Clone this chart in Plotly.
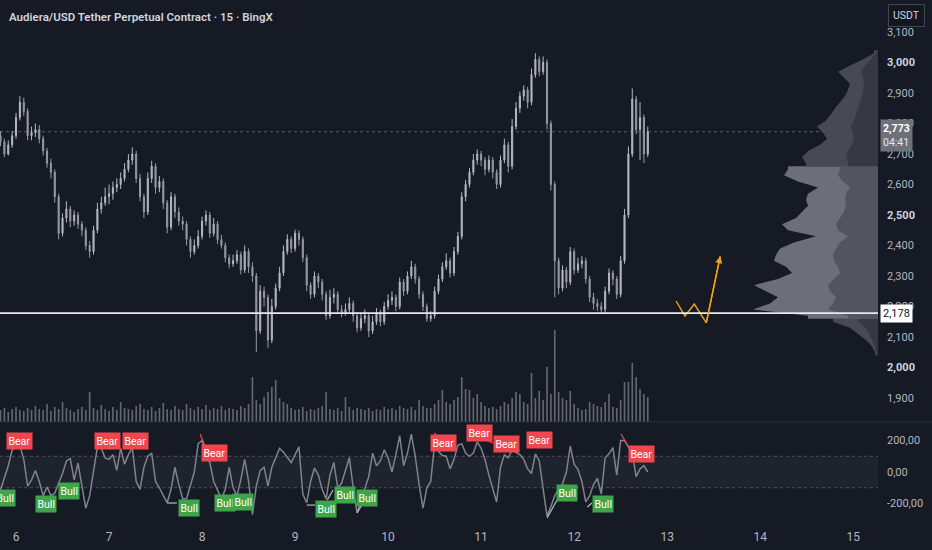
import pandas as pd
import plotly.graph_objects as go

# ---------------- data ----------------
start_time = "2025-01-05 20:00"
n_bars = 168

closes = [2740,2700,2730,2760,2820,2870,2840,2760,2770,2780,
          2750,2710,2670,2640,2560,2440,2490,2520,2480,2500,
          2470,2450,2400,2380,2450,2520,2540,2560,2570,2590,
          2600,2620,2650,2680,2700,2620,2560,2510,2620,2660,
          2590,2610,2540,2460,2560,2510,2480,2470,2420,2380,
          2400,2430,2480,2500,2440,2470,2420,2400,2360,2340,
          2350,2370,2320,2380,2330,2300,2120,2250,2230,2090,
          2200,2260,2310,2380,2420,2390,2440,2420,2360,2270,
          2240,2300,2280,2240,2170,2230,2240,2190,2180,2190,
          2210,2170,2130,2160,2170,2120,2150,2180,2150,2200,
          2220,2230,2200,2280,2250,2300,2330,2290,2240,2200,
          2160,2170,2250,2290,2330,2350,2310,2380,2430,2560,
          2600,2640,2680,2700,2680,2650,2680,2640,2600,2680,
          2730,2660,2790,2850,2890,2910,2870,2960,3010,2970,
          3000,2800,2600,2350,2260,2320,2280,2380,2320,2340,
          2350,2290,2230,2210,2200,2190,2250,2310,2290,2240,
          2350,2500,2700,2880,2780,2820,2700,2773]
first_open = 2760
highs = [2775,2750,2745,2775,2835,2890,2885,2850,2790,2800,
         2795,2760,2720,2685,2650,2570,2505,2545,2530,2515,
         2510,2480,2460,2415,2465,2540,2560,2590,2600,2610,
         2620,2640,2670,2700,2722,2710,2635,2570,2640,2678,
         2670,2628,2620,2550,2575,2570,2525,2495,2480,2430,
         2420,2450,2495,2515,2510,2490,2480,2435,2410,2370,
         2370,2385,2380,2400,2390,2345,2310,2270,2265,2240,
         2225,2275,2330,2400,2437,2430,2452,2450,2430,2370,
         2280,2315,2310,2290,2250,2255,2260,2250,2205,2210,
         2230,2220,2180,2180,2190,2180,2170,2195,2190,2215,
         2240,2250,2240,2295,2290,2315,2350,2340,2300,2250,
         2210,2185,2265,2305,2345,2375,2360,2395,2445,2575,
         2615,2655,2700,2715,2710,2690,2695,2690,2650,2695,
         2750,2740,2815,2870,2905,2925,2920,2980,3030,3020,
         3020,3010,2810,2610,2360,2335,2330,2395,2390,2360,
         2365,2360,2300,2245,2225,2215,2265,2325,2320,2300,
         2365,2520,2725,2915,2890,2870,2830,2790]
lows = [2725,2690,2695,2720,2750,2810,2825,2745,2745,2755,
        2735,2695,2655,2620,2540,2420,2430,2475,2460,2465,
        2455,2430,2385,2360,2370,2440,2505,2530,2535,2550,
        2575,2585,2610,2640,2665,2605,2545,2490,2500,2605,
        2570,2575,2520,2440,2450,2490,2465,2450,2400,2360,
        2370,2390,2420,2465,2425,2430,2405,2390,2345,2325,
        2330,2340,2305,2310,2310,2280,2050,2110,2200,2065,
        2080,2190,2250,2300,2370,2375,2380,2400,2345,2250,
        2225,2230,2260,2220,2155,2160,2210,2175,2165,2170,
        2180,2150,2115,2120,2145,2100,2110,2140,2135,2140,
        2190,2205,2185,2190,2235,2240,2290,2275,2225,2185,
        2150,2150,2160,2240,2280,2320,2295,2300,2370,2420,
        2545,2590,2630,2665,2660,2630,2640,2620,2585,2590,
        2670,2640,2650,2780,2835,2875,2850,2860,2950,2955,
        2960,2780,2580,2230,2240,2250,2260,2270,2305,2310,
        2325,2275,2215,2190,2185,2175,2180,2240,2270,2225,
        2230,2340,2490,2690,2765,2680,2670,2690]

volumes = [12,14,10,13,15,12,11,14,12,16,13,12,18,11,15,13,20,14,12,10,13,15,12,
           30,
           14,12,17,13,11,15,12,20,14,13,12,16,18,13,12,15,11,14,19,13,12,
           16,13,12,18,14,12,15,13,17,12,14,13,16,12,14,13,
           12,16,14,18,
           45,
           22,18,25,30,35,42,24,20,18,
           14,12,13,15,11,13,12,14,16,30,
           13,12,14,11,25,15,12,14,13,12,14,11,13,12,15,13,14,12,16,14,13,15,12,22,16,14,
           14,18,22,32,20,18,22,25,45,33,
           32,24,28,20,16,14,15,13,16,20,
           18,24,30,28,20,18,49,24,31,22,
           55,28,92,30,24,22,31,18,14,12,
           13,20,18,16,15,20,28,15,14,22,
           40,40,59,45,33,28,25]

oscillator = [-114,-40,40,140,160,165,80,-90,-50,10,
              -60,-150,-95,-150,-135,-70,-10,70,85,-50,
              57,-90,-230,-150,10,159,150,90,80,110,
              10,150,50,110,155,-60,-110,30,100,120,
              -60,-100,-150,-195,-110,30,-80,-170,-170,-90,
              0,180,200,110,60,-60,-120,-170,-110,30,
              -100,-150,-50,80,-60,-270,-90,10,30,-90,
              30,90,150,125,95,60,110,160,-140,-195,
              -60,25,-20,-110,-170,-20,60,-100,-70,10,
              90,-100,-260,-180,-110,-30,120,40,70,140,
              90,0,110,230,40,120,240,100,-80,-230,
              -100,-60,180,130,105,100,20,80,170,180,
              120,100,120,190,150,80,-20,-100,-190,30,
              110,90,140,125,110,80,20,-10,115,70,
              -100,-280,-220,-150,-110,-75,0,165,50,15,
              -60,-190,-150,-80,-40,-140,90,115,155,-20,
              200,200,160,120,-30,20,40,0]

bear_times = ["2025-01-06 01:00", "2025-01-06 23:30", "2025-01-07 06:42", "2025-01-08 03:06",
              "2025-01-10 14:12", "2025-01-10 23:30", "2025-01-11 06:30", "2025-01-11 15:00",
              "2025-01-12 17:30"]
bear_values = [197, 197, 197, 121, 184, 248, 178, 203, 114]
bull_times = ["2025-01-05 21:12", "2025-01-06 07:42", "2025-01-06 13:42", "2025-01-07 20:36",
              "2025-01-08 06:00", "2025-01-08 10:36", "2025-01-09 08:00", "2025-01-09 12:54",
              "2025-01-09 18:36", "2025-01-11 22:12", "2025-01-12 07:30"]
bull_values = [-165, -203, -121, -229, -197, -191, -235, -146, -165, -133, -203]

bear_links = [(("2025-01-07 23:30", 241), ("2025-01-08 01:00", 152)),
              (("2025-01-12 12:06", 241), ("2025-01-12 14:30", 140)),
              (("2025-01-10 23:00", 222), ("2025-01-11 03:06", 184)),
              (("2025-01-10 11:54", 248), ("2025-01-10 13:24", 210))]
bull_links = [(("2025-01-11 17:00", -292), ("2025-01-11 19:36", -178)),
              (("2025-01-09 16:00", -260), ("2025-01-09 17:30", -197)),
              (("2025-01-07 15:00", -197), ("2025-01-07 17:30", -197)),
              (("2025-01-12 03:24", -222), ("2025-01-12 04:36", -197)),
              (("2025-01-09 03:00", -210), ("2025-01-09 05:12", -210)),
              (("2025-01-09 08:18", -178), ("2025-01-09 09:48", -114))]

support_level = 2178
last_price = 2773
countdown = "04:41"

path_times = ["2025-01-13 02:18", "2025-01-13 04:36", "2025-01-13 07:00",
              "2025-01-13 10:06", "2025-01-13 13:42"]
path_prices = [2218, 2169, 2208, 2146, 2365]

profile_prices = [2050,2070,2090,2110,2130,2150,2170,2190,2210,2230,
                  2250,2270,2290,2310,2330,2350,2370,2390,2410,2430,
                  2450,2470,2490,2510,2530,2550,2570,2590,2610,2630,
                  2650,2670,2690,2710,2730,2750,2770,2790,2810,2830,
                  2850,2870,2890,2910,2930,2950,2970,2990,3010,3030]
profile_total = [3,6,12,20,28,45,70,125,108,100,
                 112,124,100,86,92,104,102,98,84,62,
                 90,96,82,76,70,72,70,60,80,94,
                 90,72,76,70,58,51,55,61,52,47,
                 43,38,33,30,28,34,40,28,15,4]
profile_inner = [2,3,6,9,12,20,30,50,45,42,
                 48,50,44,38,40,44,45,42,38,30,
                 40,42,38,34,32,33,32,28,35,40,
                 38,30,32,30,26,24,25,27,24,22,
                 20,18,16,15,14,15,17,13,7,2]
value_area = (2170, 2650)

price_ticks = [1900,2000,2100,2200,2300,2400,2500,2600,2700,2800,2900,3000,3100]
osc_ticks = [200, 0, -200]
osc_tick_text = ["200,00", "0,00", "-200,00"]
day_ticks = [6, 7, 8, 9, 10, 11, 12, 13, 14, 15]

title_text = "Audiera/USD Tether Perpetual Contract · 15 · BingX"
currency = "USDT"

# ---------------- figure ----------------
BG = "#161a25"
TXT = "#b2b5be"
FONT = "Roboto"
W, H = 932, 550
ML, MR, MT, MB = 0, 54, 0, 30
PW, PH = W - ML - MR, H - MT - MB
main_bottom_px = 422
bin_half = 10

times = pd.date_range(start_time, periods=n_bars, freq="h")
opens = [first_open] + closes[:-1]

fig = go.Figure()

# volume (behind)
fig.add_trace(go.Bar(x=times, y=volumes, xaxis="x", yaxis="y2",
                     marker=dict(color="rgba(130,133,144,0.72)", line=dict(width=0)),
                     width=3600000 * 0.42, hoverinfo="skip", showlegend=False))

# volume profile as filled jagged areas, grouped by value-area membership
va_lo, va_hi = value_area


def profile_groups(widths):
    groups, cur, cur_in = [], [], None
    for p, w in zip(profile_prices, widths):
        inside = va_lo <= p <= va_hi
        if cur and inside != cur_in:
            groups.append((cur_in, cur))
            cur = []
        cur.append((p, w))
        cur_in = inside
    if cur:
        groups.append((cur_in, cur))
    return groups


def add_profile(widths, col_in, col_out):
    for inside, pts in profile_groups(widths):
        ys = [pts[0][0] - bin_half, pts[0][0] - bin_half] + [p for p, _ in pts] + \
             [pts[-1][0] + bin_half, pts[-1][0] + bin_half]
        xs = [0, pts[0][1]] + [w for _, w in pts] + [pts[-1][1], 0]
        fig.add_trace(go.Scatter(x=xs, y=ys, xaxis="x2", yaxis="y", mode="lines",
                                 line=dict(width=0), fill="toself",
                                 fillcolor=col_in if inside else col_out,
                                 hoverinfo="skip", showlegend=False))


add_profile(profile_total, "#6c6f79", "#474a54")
add_profile(profile_inner, "#52555f", "#363944")

# candles
fig.add_trace(go.Candlestick(x=times, open=opens, high=highs, low=lows, close=closes,
                             xaxis="x", yaxis="y",
                             increasing=dict(line=dict(color="#b4b7bf", width=1), fillcolor="#b4b7bf"),
                             decreasing=dict(line=dict(color="#979aa3", width=1), fillcolor="#979aa3"),
                             whiskerwidth=0, hoverinfo="skip", showlegend=False))

# orange projection path
fig.add_trace(go.Scatter(x=path_times, y=path_prices, mode="lines", xaxis="x", yaxis="y",
                         line=dict(color="#f0a020", width=1.4), hoverinfo="skip", showlegend=False))

# oscillator
fig.add_trace(go.Scatter(x=times, y=oscillator, mode="lines", xaxis="x", yaxis="y3",
                         line=dict(color="#80838d", width=1.5), hoverinfo="skip", showlegend=False))


def link_xy(links):
    xs, ys = [], []
    for (t0, v0), (t1, v1) in links:
        xs += [t0, t1, None]
        ys += [v0, v1, None]
    return xs, ys


bx, by = link_xy(bear_links)
fig.add_trace(go.Scatter(x=bx, y=by, mode="lines", xaxis="x", yaxis="y3",
                         line=dict(color="#f0484f", width=1.2), hoverinfo="skip", showlegend=False))
gx, gy = link_xy(bull_links)
fig.add_trace(go.Scatter(x=gx, y=gy, mode="lines", xaxis="x", yaxis="y3",
                         line=dict(color="#b9bcc4", width=1.2), hoverinfo="skip", showlegend=False))

annotations = []
for t, v in zip(bear_times, bear_values):
    annotations.append(dict(x=t, y=v, xref="x", yref="y3", text="Bear", showarrow=False,
                            font=dict(family=FONT, size=10.5, color="white"),
                            bgcolor="#f0474f", borderpad=1.5))
for t, v in zip(bull_times, bull_values):
    annotations.append(dict(x=t, y=v, xref="x", yref="y3", text="Bull", showarrow=False,
                            font=dict(family=FONT, size=10.5, color="white"),
                            bgcolor="#3fa548", borderpad=1.5))

# arrow head of projection
annotations.append(dict(x=path_times[-1], y=path_prices[-1], ax=path_times[-2], ay=path_prices[-2],
                        xref="x", yref="y", axref="x", ayref="y", text="", showarrow=True,
                        arrowhead=2, arrowsize=1, arrowwidth=1.4, arrowcolor="#f0a020"))

# title
annotations.append(dict(x=7 / PW, y=(PH - 17) / PH, xref="paper", yref="paper",
                        xanchor="left", yanchor="middle", showarrow=False,
                        text=title_text, font=dict(family=FONT, size=11.5, color="#d1d4dc", weight=600)))
# currency box
annotations.append(dict(x=906 / PW, y=(PH - 15) / PH, xref="paper", yref="paper",
                        xanchor="center", yanchor="middle", showarrow=False, text=currency,
                        font=dict(family=FONT, size=10.5, color="#d1d4dc"),
                        bgcolor="#131722", bordercolor="#434651", borderwidth=1, borderpad=4))
# last price label
annotations.append(dict(x=880 / PW, y=last_price, xref="paper", yref="y", xanchor="left", yanchor="middle",
                        yshift=-4, showarrow=False,
                        text=f"<b>{last_price:,}</b><br><span style='color:#e6e7ea'>{countdown}</span>",
                        font=dict(family=FONT, size=10.5, color="white"),
                        bgcolor="#6e717b", borderpad=2, align="left"))
# support label
annotations.append(dict(x=880 / PW, y=support_level, xref="paper", yref="y", xanchor="left", yanchor="middle",
                        showarrow=False, text=f"{support_level:,}",
                        font=dict(family=FONT, size=11, color="#131722"),
                        bgcolor="#ffffff", borderpad=2))

osc_top_px = main_bottom_px + 1
shapes = [
    dict(type="rect", xref="paper", yref="y3", x0=0, x1=1, y0=-100, y1=100,
         fillcolor="rgba(125,128,139,0.09)", line=dict(width=0), layer="below"),
    dict(type="line", xref="paper", yref="y3", x0=0, x1=1, y0=100, y1=100,
         line=dict(color="#4c4f59", width=1, dash="dot"), layer="below"),
    dict(type="line", xref="paper", yref="y3", x0=0, x1=1, y0=-100, y1=-100,
         line=dict(color="#4c4f59", width=1, dash="dot"), layer="below"),
    dict(type="line", xref="paper", yref="y", x0=0, x1=1, y0=last_price, y1=last_price,
         line=dict(color="#5d606b", width=1, dash="dot"), layer="below"),
    dict(type="line", xref="paper", yref="y", x0=0, x1=1, y0=support_level, y1=support_level,
         line=dict(color="#e8e9ec", width=1.8)),
    dict(type="line", xref="paper", yref="paper", x0=0, x1=W / PW,
         y0=(PH - main_bottom_px) / PH, y1=(PH - main_bottom_px) / PH,
         line=dict(color="#2a2e39", width=1)),
]

# axis ranges from pixel geometry
px_per_unit = 30.5 / 100
price_top = 3100 + 32 / px_per_unit
price_bottom = 3100 - (main_bottom_px - 32) / px_per_unit
osc_px = 31.5 / 200
osc_top = (472 - osc_top_px) / osc_px
osc_bottom = -(PH - 472) / osc_px

bright = {2000, 2500, 3000}
price_text = [f"<span style='color:#d1d4dc'><b>{v:,}</b></span>" if v in bright else f"{v:,}"
              for v in price_ticks]

first_day = pd.Timestamp(start_time).normalize()
day_vals = [first_day + pd.Timedelta(days=d - first_day.day) for d in day_ticks]
x_left = pd.Timestamp(start_time) - pd.Timedelta(minutes=8)
x_right = pd.Timestamp("2025-01-15 06:24")

fig.update_layout(
    width=W, height=H, margin=dict(l=ML, r=MR, t=MT, b=MB),
    paper_bgcolor=BG, plot_bgcolor=BG, showlegend=False,
    barmode="overlay", boxgap=0.6,
    font=dict(family=FONT, color=TXT, size=11),
    xaxis=dict(type="date", range=[x_left, x_right], anchor="y3", domain=[0, 1],
               tickvals=day_vals, ticktext=[str(d) for d in day_ticks],
               showgrid=False, zeroline=False, showline=False, ticks="",
               tickfont=dict(size=12, color=TXT), ticklabelstandoff=8,
               rangeslider=dict(visible=False)),
    xaxis2=dict(range=[PW, 0], overlaying="x", anchor="y", visible=False),
    yaxis=dict(domain=[(PH - main_bottom_px) / PH, 1], range=[price_bottom, price_top],
               side="right", anchor="x", tickvals=price_ticks, ticktext=price_text,
               showgrid=False, zeroline=False, ticks="", ticklabelstandoff=8,
               tickfont=dict(size=11, color=TXT)),
    yaxis2=dict(domain=[(PH - main_bottom_px) / PH, 1], range=[0, main_bottom_px],
                overlaying="y", anchor="x", visible=False),
    yaxis3=dict(domain=[0, (PH - osc_top_px) / PH], range=[osc_bottom, osc_top],
                side="right", anchor="x", tickvals=osc_ticks, ticktext=osc_tick_text,
                showgrid=False, zeroline=False, ticks="", ticklabelstandoff=8,
                tickfont=dict(size=11, color=TXT)),
    annotations=annotations, shapes=shapes,
)

fig.write_html("out.html", config={"displayModeBar": False})

# remove the browser's default page margin so the figure fills the window exactly
with open("out.html", "r", encoding="utf-8") as fh:
    html = fh.read()
html = html.replace("<head>", "<head><style>html,body{margin:0;padding:0;overflow:hidden;background:#161a25}</style>", 1)
with open("out.html", "w", encoding="utf-8") as fh:
    fh.write(html)
